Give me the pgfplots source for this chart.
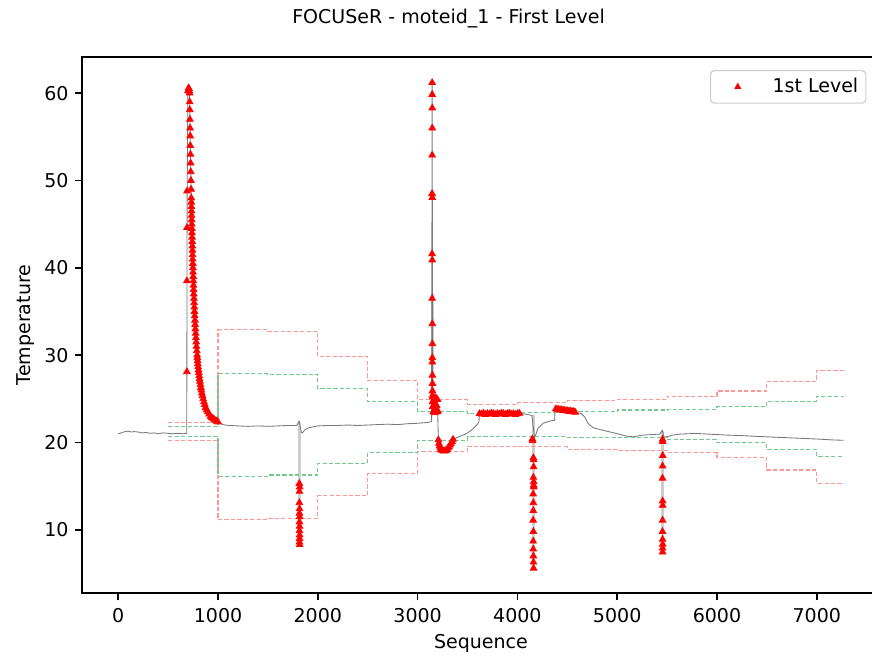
\documentclass[border=0pt]{standalone}
\usepackage{fontspec}
\setmainfont{DejaVu Sans}
\usepackage{pgfplots}
\pgfplotsset{compat=1.18}
\usetikzlibrary{calc}
\definecolor{lred}{RGB}{255,150,150}
\definecolor{lgreen}{RGB}{115,200,140}
\definecolor{lgray}{RGB}{205,205,205}
\definecolor{dgray}{RGB}{120,120,120}
\definecolor{legframe}{RGB}{204,204,204}

\begin{document}
\begin{tikzpicture}
\begin{axis}[
name=ax,
scale only axis,
width=419.7pt,height=281.9pt,
xmin=-363.5,xmax=7633.5,ymin=2.76,ymax=64.14,
xtick={0,1000,...,7000},ytick={10,20,...,60},
scaled x ticks=false,
/pgf/number format/1000 sep={},
/pgf/number format/assume math mode=true,
tick align=outside,tick pos=left,
major tick length=3.5pt,
every tick/.style={black,line width=0.8pt},
axis line style={black,line width=0.8pt},
xticklabel style={yshift=-1pt},
xlabel={Sequence},ylabel={Temperature},
xlabel style={at={(axis description cs:0.5,-0.1026)},anchor=base},
ylabel style={at={(axis description cs:-0.0702,0.5)},anchor=center},
legend style={at={(axis description cs:0.983,0.9757)},anchor=north east,
  draw=legframe,rounded corners=2pt,fill=white,line width=0.6pt,
  inner xsep=2pt,inner ysep=2pt,font=\normalsize},
legend cell align=left,
legend image code/.code={\path (0pt,0pt) (28pt,0pt); \draw[#1,mark size=1.6pt] plot coordinates {(12pt,0pt)};},
]
% oscillation bands at the dropouts
\addplot[lgray,line width=1.6pt,forget plot] coordinates {(1818,22.2)(1818,8.3)};
\addplot[lgray,line width=1.6pt,forget plot] coordinates {(3151,37)(3151,23.6)};
\addplot[lgray,line width=1.6pt,forget plot] coordinates {(4158,23.1)(4158,5.6)};
\addplot[lgray,line width=1.6pt,forget plot] coordinates {(5455,21.3)(5455,7.4)};

% sensor series
\addplot[dgray,line width=0.45pt,forget plot] coordinates {
(0,21.0)(20,21.05)(40,21.15)(70,21.25)(100,21.3)(130,21.2)(160,21.25)(200,21.2)
(240,21.1)(280,21.15)(320,21.05)(360,21.1)(400,21.0)(450,21.1)(500,21.05)(550,21.0)
(600,21.05)(650,21.0)(686,21.05)(688,28.1)(689,38.5)(690,44.6)(691,48.8)(698,60.3)
(705,60.6)(712,60.4)(714.7,60)(716,59)(718.4,57)(721,55)(724,53)(727,51)(730,49)
(733.6,47)(737,45)(739,44)(741.5,43)(744,42)(746,41)(748.5,40)(751,39)(754,38)(757,37)
(761,36)(764,35)(769,34)(773,33)(779,32)(784,31)(791,30)(798,29)(808,28)(819,27)
(833,26)(851,25)(876,24)(896,23.5)(925,23)(951,22.7)(979,22.5)(1000,22.35)(1030,22.15)
(1070,22.0)(1120,21.95)(1200,21.9)(1300,21.85)(1400,21.9)(1500,21.85)(1600,21.9)
(1700,21.95)(1790,21.95)(1812,22.45)(1818,22.2)(1835,21.15)(1845,21.1)(1870,21.45)
(1900,21.65)(1950,21.8)(2000,21.9)(2100,21.95)(2200,21.95)(2300,22.0)(2400,21.95)
(2500,22.0)(2600,22.05)(2700,22.1)(2800,22.05)(2900,22.15)(3000,22.2)(3100,22.3)
(3140,22.4)(3146,61.3)(3150,24.5)(3160,25.2)(3170,23.6)(3180,25.0)(3190,23.8)(3200,24.0)
(3208,20.3)(3220,19.6)(3236,19.2)(3255,19.05)(3275,19.05)(3295,19.2)(3315,19.5)
(3335,19.9)(3355,20.35)(3420,20.7)(3487,21.0)(3550,21.5)(3600,22.1)(3615,22.4)
(3620,23.3)(3700,23.3)(3800,23.25)(3900,23.3)(4020,23.35)(4080,23.25)(4145,23.1)
(4172,20.5)(4205,21.6)(4255,22.2)(4322,22.44)(4373,22.56)(4378,23.8)(4470,23.6)
(4573,23.45)(4640,23.32)(4673,22.95)(4707,22.2)(4757,21.7)(4857,21.4)(4990,21.04)
(5091,20.73)(5158,20.65)(5258,20.85)(5426,20.96)(5452,21.4)(5470,20.6)(5493,20.65)
(5560,20.85)(5627,20.96)(5794,21.04)(5961,20.93)(6100,20.85)(6228,20.8)(6400,20.7)
(6600,20.6)(6800,20.5)(7000,20.4)(7150,20.3)(7270,20.25)};

% outer bounds (red) and inner bounds (green), one level per 500 samples
\addplot[lred,const plot mark left,line width=0.55pt,dash pattern=on 2.2pt off 1.2pt,forget plot] coordinates {
(500,22.25)(1000,32.9)(1500,32.75)(2000,29.8)(2500,27.12)(3000,24.92)(3500,24.4)
(4000,24.54)(4500,24.84)(5000,24.95)(5500,25.32)(6000,25.9)(6500,27.0)(7000,28.27)(7270,28.27)};
\addplot[lred,const plot mark left,line width=0.55pt,dash pattern=on 2.2pt off 1.2pt,forget plot] coordinates {
(500,20.24)(1000,11.14)(1500,11.29)(2000,13.9)(2500,16.47)(3000,18.94)(3500,19.59)
(4000,19.51)(4500,19.25)(5000,19.13)(5500,18.83)(6000,18.25)(6500,16.85)(7000,15.33)(7270,15.33)};
\addplot[lgreen,const plot mark left,line width=0.55pt,dash pattern=on 2.2pt off 1.2pt,forget plot] coordinates {
(500,21.8)(1000,27.85)(1500,27.8)(2000,26.17)(2500,24.65)(3000,23.58)(3500,23.32)
(4000,23.4)(4500,23.51)(5000,23.72)(5500,23.8)(6000,24.08)(6500,24.73)(7000,25.3)(7270,25.3)};
\addplot[lgreen,const plot mark left,line width=0.55pt,dash pattern=on 2.2pt off 1.2pt,forget plot] coordinates {
(500,20.73)(1000,16.16)(1500,16.28)(2000,17.6)(2500,18.87)(3000,20.27)(3500,20.65)
(4000,20.65)(4500,20.54)(5000,20.58)(5500,20.3)(6000,19.97)(6500,19.21)(7000,18.37)(7270,18.37)};

% first level anomalies
\addplot[only marks,mark=triangle*,mark size=2pt,color=red] coordinates {
(688,28.1)(688,38.5)(689,44.6)(690,48.8)(700,60.3)(705,60.6)(710,60.5)(714,60.2)
(714.7,60)(716,59)(717,58.1)(718.4,57)(720,56)(721,55.1)(722.5,54)(724,53)(725.4,52)
(727,51)(728.5,50)(730,49)(732,48)(733,47.5)(733.6,47)(734.5,46.5)(735.5,46)(736.3,45.5)
(737,45)(738,44.5)(739,44)(740.3,43.5)(741.5,43)(742.8,42.5)(744,42)(745,41.5)(746,41)
(747.3,40.5)(748.5,40)(749.8,39.5)(751,39)(752.5,38.5)(754,38)(755.5,37.5)(757,37)
(759,36.5)(761,36)(762.5,35.5)(764,35)(766.5,34.5)(769,34)(771,33.5)(773,33)(776,32.5)
(779,32)(781.5,31.5)(784,31)(787.5,30.5)(791,30)(793,29.7)(795.5,29.35)(798,29)
(801,28.65)(804.5,28.3)(808,28)(811.5,27.65)(815,27.3)(819,27)(823.5,26.65)(828,26.3)
(833,26)(838.5,25.65)(844,25.35)(851,25)(859,24.65)(867,24.35)(876,24)(886,23.75)
(896,23.5)(910,23.25)(925,23)(938,22.85)(951,22.7)(965,22.6)(979,22.5)(990,22.42)(1000,22.35)
(1815,15.3)(1818,14.9)(1816,14.4)(1815,13.1)(1817,12.4)(1816,11.9)(1818,11.5)(1816,10.9)
(1817,10.4)(1816,9.9)(1818,9.4)(1817,9.0)(1816,8.6)(1818,8.3)
(3146,61.2)(3146,59.85)(3147,58.3)(3147,56.0)(3146,52.9)(3145,48.5)(3147,48.05)(3145,41.6)
(3147,40.9)(3146,36.5)(3148,33.6)(3148,31.3)(3148,29.7)(3147,29.2)(3148,27.7)(3149,26.75)
(3149,25.9)(3150,25.4)(3150,24.65)(3150,24.1)
(3152,25.2)(3156,23.5)(3160,24.8)(3164,23.6)(3168,25.0)(3172,23.4)(3176,24.5)(3180,23.6)
(3184,25.1)(3188,23.5)(3192,24.2)(3196,23.5)(3200,24.9)(3204,23.6)
(3208,20.3)(3214,19.9)(3220,19.6)(3228,19.35)(3236,19.2)(3245,19.1)(3255,19.05)(3265,19.03)
(3275,19.05)(3285,19.1)(3295,19.2)(3305,19.35)(3315,19.5)(3325,19.7)(3335,19.9)(3345,20.1)(3355,20.35)
(3620,23.3)(3640,23.25)(3660,23.35)(3680,23.2)(3700,23.3)(3720,23.25)(3740,23.35)(3760,23.3)
(3780,23.2)(3800,23.3)(3820,23.25)(3840,23.35)(3860,23.3)(3880,23.2)(3900,23.3)(3920,23.35)
(3940,23.25)(3960,23.3)(3980,23.2)(4000,23.3)(4020,23.35)
(4150,20.4)(4152,20.2)(4163,18.0)(4160,18.25)(4162,17.2)(4160,16.0)(4163,15.5)(4163,15.1)
(4165,14.9)(4158,14.1)(4160,13.1)(4159,12.2)(4158,11.1)(4160,9.8)(4158,8.7)(4159,7.8)
(4160,7.0)(4161,6.3)(4162,5.6)
(4385,23.85)(4400,23.75)(4415,23.8)(4430,23.7)(4445,23.75)(4460,23.65)(4475,23.7)(4490,23.6)
(4505,23.65)(4520,23.55)(4535,23.6)(4550,23.5)(4565,23.55)(4580,23.45)
(5455,20.35)(5455,20.1)(5456,18.5)(5455,17.3)(5454,15.9)(5455,13.3)(5456,12.8)(5455,11.1)
(5454,9.8)(5455,8.9)(5456,8.35)(5455,7.9)(5455,7.45)};
\addlegendentry{1st Level}
\end{axis}
\node[anchor=base] at ($(ax.south west)+(192.8pt,299.3pt)$) {FOCUSeR - moteid\_1 - First Level};
\pgfresetboundingbox
\path[use as bounding box] ($(ax.south west)+(-43.1pt,-33.66pt)$) rectangle ($(ax.south west)+(415.5pt,311.9pt)$);
\end{tikzpicture}
\end{document}
